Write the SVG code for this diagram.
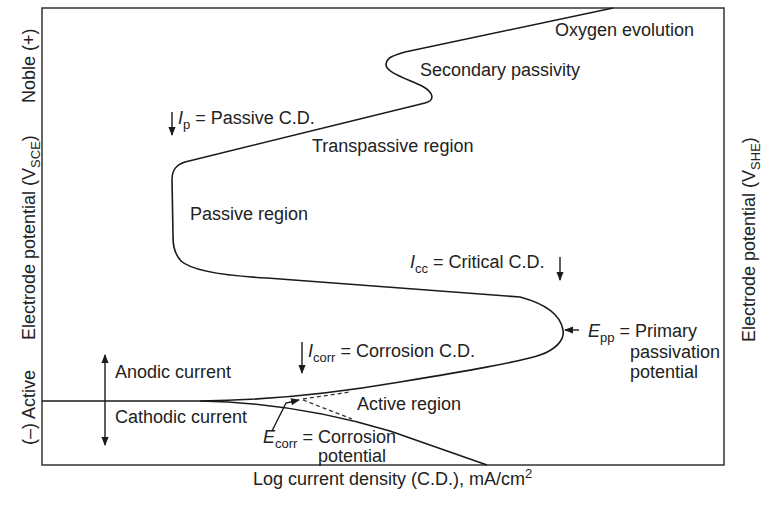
<svg xmlns="http://www.w3.org/2000/svg" width="763" height="506" viewBox="0 0 763 506">
<defs>
<marker id="ah" viewBox="0 0 10 10" refX="9" refY="5" markerWidth="9" markerHeight="9" markerUnits="userSpaceOnUse" orient="auto-start-reverse">
<path d="M0,1 L10,5 L0,9 Z" fill="#1a1a1a"/>
</marker>
<style>
text{font-family:"Liberation Sans",Arial,sans-serif;font-size:18px;fill:#222}
.sub{font-size:13px}
.it{font-style:italic}
.curve{fill:none;stroke:#1a1a1a;stroke-width:1.6}
.dash{fill:none;stroke:#333;stroke-width:1.3;stroke-dasharray:4,3}
.arr{fill:none;stroke:#1a1a1a;stroke-width:1.4}
</style>
</defs>
<rect width="763" height="506" fill="#fff"/>
<g id="frame">
<rect x="42" y="8" width="682" height="457" fill="none" stroke="#333" stroke-width="1.5"/>
</g>
<g id="connectors">
<path class="curve" d="M42,401 L200,401 C260,400.5 330,394 400,382 C460,372 520,362 540,355 C555,350 565,340 563,330 C561,318 550,305 520,297 L267,278 C230,276 192,271 181,261 C173,252 173,242 173,235 L172,180 C172,170 176,165 185,162 L425,103 C436,100 433,92 422,86 C405,78 385,72 386,64 C387,57 395,55 405,52 L613,8"/>
<path class="curve" d="M200,401 C260,402 320,410 390,431 L487,465"/>
<path class="dash" d="M303,399 L350,392"/>
<path class="dash" d="M303,400 L352,419"/>
<path class="arr" d="M272,431 L286,403 L299,400" marker-end="url(#ah)"/>
<path class="arr" d="M172,112 L172,135" marker-end="url(#ah)"/>
<path class="arr" d="M560,257 L560,280" marker-end="url(#ah)"/>
<path class="arr" d="M302,342 L302,373" marker-end="url(#ah)"/>
<path class="arr" d="M105,355 L105,445" marker-start="url(#ah)" marker-end="url(#ah)"/>
<path class="arr" d="M579,330 L565,330" marker-end="url(#ah)"/>
</g>
<g id="labels">
<text x="555" y="36">Oxygen evolution</text>
<text x="420" y="76">Secondary passivity</text>
<text x="178" y="124"><tspan class="it">I</tspan><tspan class="sub" dy="5">p</tspan><tspan dy="-5"> = Passive C.D.</tspan></text>
<text x="312" y="152">Transpassive region</text>
<text x="190" y="220">Passive region</text>
<text x="410" y="268"><tspan class="it">I</tspan><tspan class="sub" dy="5">cc</tspan><tspan dy="-5"> = Critical C.D.</tspan></text>
<text x="588" y="337"><tspan class="it">E</tspan><tspan class="sub" dy="5">pp</tspan><tspan dy="-5"> = Primary</tspan></text>
<text x="630" y="358">passivation</text>
<text x="630" y="378">potential</text>
<text x="308" y="357"><tspan class="it">I</tspan><tspan class="sub" dy="5">corr</tspan><tspan dy="-5"> = Corrosion C.D.</tspan></text>
<text x="357" y="410">Active region</text>
<text x="115" y="378">Anodic current</text>
<text x="115" y="423">Cathodic current</text>
<text x="263" y="443"><tspan class="it">E</tspan><tspan class="sub" dy="5">corr</tspan><tspan dy="-5"> = Corrosion</tspan></text>
<text x="318" y="462">potential</text>
<text x="253" y="485">Log current density (C.D.), mA/cm<tspan class="sub" dy="-7">2</tspan></text>
<text transform="translate(35,103) rotate(-90)">Noble (+)</text>
<text transform="translate(35,340) rotate(-90)">Electrode potential (V<tspan class="sub" dy="5">SCE</tspan><tspan dy="-5">)</tspan></text>
<text transform="translate(35,445) rotate(-90)">(–) Active</text>
<text transform="translate(755,342) rotate(-90)">Electrode potential (V<tspan class="sub" dy="5">SHE</tspan><tspan dy="-5">)</tspan></text>
</g>
</svg>
